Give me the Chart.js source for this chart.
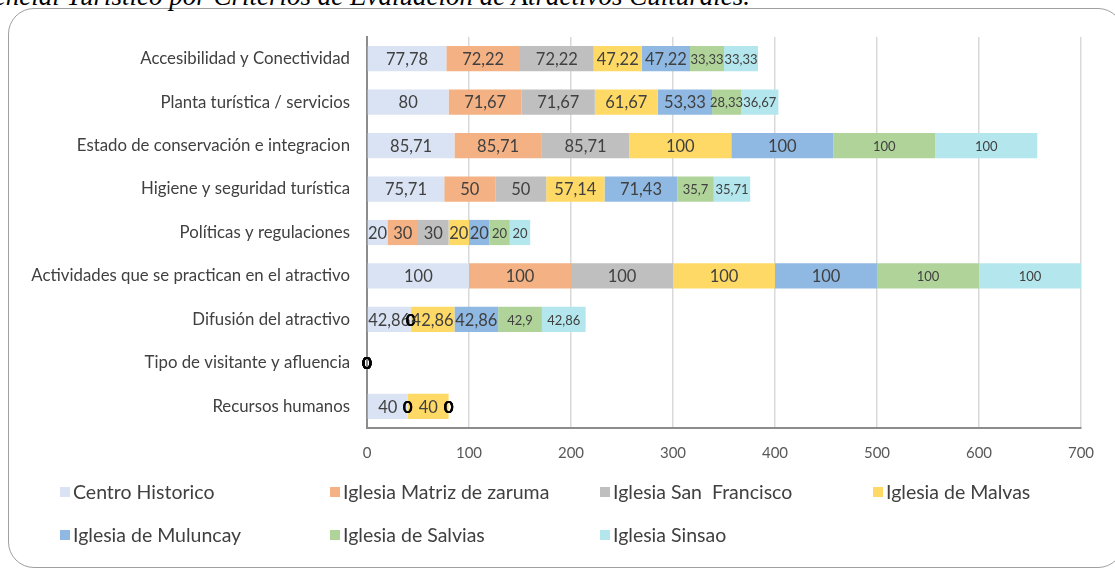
<!DOCTYPE html>
<html><head><meta charset="utf-8">
<script src="https://cdn.jsdelivr.net/npm/chart.js@4.4.0/dist/chart.umd.min.js"></script>
<style>
html,body{margin:0;padding:0;background:#fff;overflow:hidden;width:1115px;height:570px;}
#wrap{position:relative;width:1115px;height:570px;overflow:hidden;}
#frame{position:absolute;left:8px;top:8px;width:1116px;height:560px;border:1.5px solid #a0a0a0;border-radius:26px;box-sizing:border-box;}
#title{position:absolute;right:365px;top:-17.5px;font:italic 27px "Liberation Serif";white-space:nowrap;color:#000;line-height:27px;}
canvas{position:absolute;left:0;top:0;}
</style></head>
<body><div id="wrap"><div id="frame"></div><div id="title">Potencial Turístico por Criterios de Evaluación de Atractivos Culturales.</div><canvas id="c" width="1115" height="570"></canvas></div>
<script>
const categories = [
  "Accesibilidad y Conectividad",
  "Planta turística / servicios",
  "Estado de conservación e integracion",
  "Higiene y seguridad turística",
  "Políticas y regulaciones",
  "Actividades que se practican en el atractivo",
  "Difusión del atractivo",
  "Tipo de visitante y afluencia",
  "Recursos humanos"
];
const seriesNames = ["Centro Historico","Iglesia Matriz de zaruma","Iglesia San  Francisco","Iglesia de Malvas","Iglesia de Muluncay","Iglesia de Salvias","Iglesia Sinsao"];
const seriesColors = ["#DAE3F3","#F4B183","#BFBFBF","#FFD966","#8FB9E3","#B0D39A","#B4E6ED"];
const centroHistorico     = [77.78, 80,    85.71, 75.71, 20, 100, 42.86, 0, 40];
const iglesiaMatriz       = [72.22, 71.67, 85.71, 50,    30, 100, 0,     0, 0];
const iglesiaSanFrancisco = [72.22, 71.67, 85.71, 50,    30, 100, 0,     0, 0];
const iglesiaMalvas       = [47.22, 61.67, 100,   57.14, 20, 100, 42.86, 0, 40];
const iglesiaMuluncay     = [47.22, 53.33, 100,   71.43, 20, 100, 42.86, 0, 0];
const iglesiaSalvias      = [33.33, 28.33, 100,   35.7,  20, 100, 42.9,  0, 0];
const iglesiaSinsao       = [33.33, 36.67, 100,   35.71, 20, 100, 42.86, 0, 0];
const xTicks = [0,100,200,300,400,500,600,700];

const seriesValues = [centroHistorico, iglesiaMatriz, iglesiaSanFrancisco, iglesiaMalvas, iglesiaMuluncay, iglesiaSalvias, iglesiaSinsao];

const FONT = "Lato";

const labelPlugin = {
  id: 'barLabels',
  afterDatasetsDraw(chart) {
    const ctx = chart.ctx;
    chart.data.datasets.forEach((ds, i) => {
      const meta = chart.getDatasetMeta(i);
      meta.data.forEach((el, j) => {
        const v = ds.data[j];
        const cx = (el.x + el.base) / 2;
        ctx.save();
        if (v === 0) { ctx.font = 'bold 17px ' + FONT; ctx.fillStyle = '#000'; }
        else { ctx.font = (i >= 5 ? '13px ' : '16.5px ') + FONT; ctx.fillStyle = '#404040'; }
        ctx.textAlign = 'center'; ctx.textBaseline = 'middle';
        ctx.fillText(String(v).replace('.', ','), cx, el.y + 1);
        ctx.restore();
      });
    });
  }
};

const legendPlugin = {
  id: 'customLegend',
  afterDraw(chart) {
    const ctx = chart.ctx;
    const cols = [60, 330, 600, 873];
    const rows = [492, 535];
    chart.data.datasets.forEach((ds, i) => {
      const x = cols[i % 4], y = rows[Math.floor(i / 4)];
      ctx.save();
      ctx.fillStyle = ds.backgroundColor;
      ctx.fillRect(x, y - 5, 10, 10);
      ctx.fillStyle = '#404040';
      ctx.font = '19.5px ' + FONT;
      ctx.textAlign = 'left'; ctx.textBaseline = 'middle';
      ctx.fillText(ds.label, x + 13, y + 1);
      ctx.restore();
    });
  }
};

new Chart(document.getElementById('c'), {
  type: 'bar',
  data: {
    labels: categories,
    datasets: seriesValues.map((vals, i) => ({
      label: seriesNames[i],
      data: vals,
      backgroundColor: seriesColors[i],
      borderWidth: 0,
      barPercentage: 0.58,
      categoryPercentage: 1
    }))
  },
  options: {
    indexAxis: 'y',
    responsive: false,
    animation: false,
    layout: { padding: { top: 37, right: 34, left: 0, bottom: 0 } },
    plugins: { legend: { display: false }, tooltip: { enabled: false } },
    scales: {
      x: {
        stacked: true, min: 0, max: 700,
        afterBuildTicks: s => { s.ticks = xTicks.map(v => ({ value: v })); },
        afterFit: s => { s.height = 142; },
        grid: { color: '#d9d9d9', lineWidth: 1.5, drawTicks: false },
        border: { display: true, color: '#8c8c8c', width: 2 },
        ticks: { padding: 16, color: '#595959', font: { family: FONT, size: 15 } }
      },
      y: {
        stacked: true,
        afterFit: s => { s.width = 367; },
        grid: { display: false, drawTicks: false },
        border: { display: true, color: '#8c8c8c', width: 2 },
        ticks: { padding: 17, color: '#404040', font: { family: FONT, size: 16.8 } }
      }
    }
  },
  plugins: [labelPlugin, legendPlugin]
});
</script>
</body></html>
